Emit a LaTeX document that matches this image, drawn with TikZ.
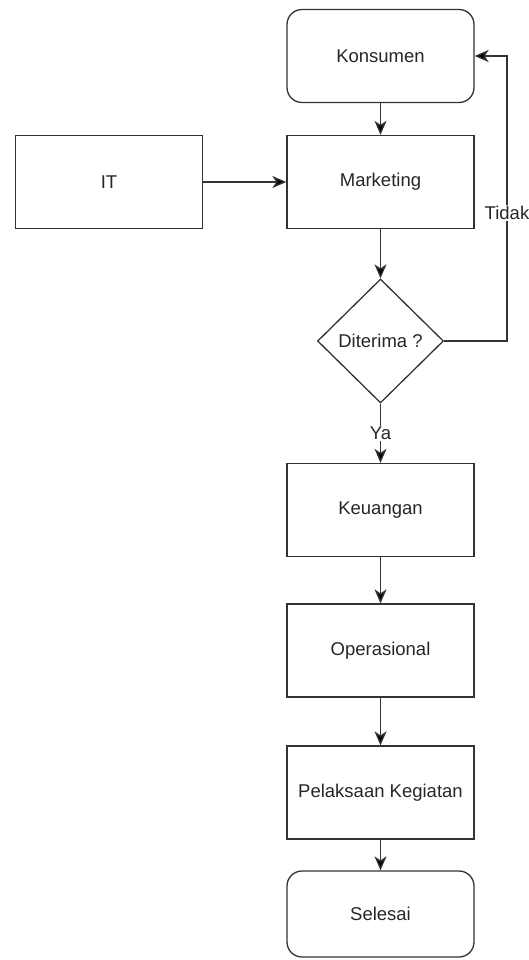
\documentclass[tikz,border=0pt]{standalone}
\usepackage{fontspec}
\setmainfont{Liberation Sans}
\usetikzlibrary{shapes.geometric,arrows.meta,calc}
\begin{document}
\begin{tikzpicture}[x=1pt,y=-1pt,
  every node/.style={font=\fontsize{18.5}{22}\selectfont, text=black!85},
  box/.style={draw=black!80, line width=1.3pt, minimum width=187pt, minimum height=93pt, inner sep=0pt},
  rbox/.style={box, rounded corners=15pt},
  decision/.style={draw=black!80, line width=1.3pt, shape=diamond, minimum width=126pt, minimum height=124pt, inner sep=0pt},
  conn/.style={draw=black!80, line width=1.3pt, -{Stealth[length=14pt,width=12pt,inset=4pt,fill=black]}},
  lbl/.style={fill=white, inner sep=1pt}
]
\useasboundingbox (0,0) rectangle (528,960);
\node[rbox] (kons) at (380.5,56) {Konsumen};
\node[box] (mkt) at (380.5,182) {Marketing};
\node[box] (it) at (109,182) {IT};
\node[decision] (dec) at (380.5,341) {Diterima ?};
\node[box] (keu) at (380.5,510) {Keuangan};
\node[box] (ops) at (380.5,650.5) {Operasional};
\node[box] (pel) at (380.5,792.5) {Pelaksaan Kegiatan};
\node[rbox, minimum height=86pt] (sel) at (380.5,914) {Selesai};
\coordinate (loop) at (507,341);

\draw[conn] (kons) -- (mkt);
\draw[conn] (it) -- (mkt);
\draw[conn] (mkt) -- (dec);
\draw[conn] (dec.east) -- (loop) |- (kons.east) node[lbl, pos=0.225] (tidak) {Tidak};
\draw[conn] (dec) -- (keu) node[lbl, pos=0.5] (ya) {Ya};
\draw[conn] (keu) -- (ops);
\draw[conn] (ops) -- (pel);
\draw[conn] (pel) -- (sel);
\end{tikzpicture}
\end{document}
